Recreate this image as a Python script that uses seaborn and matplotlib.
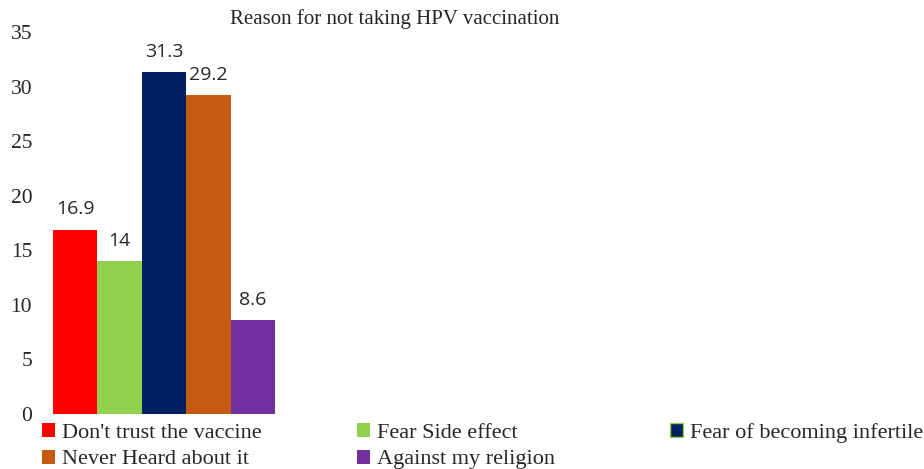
import matplotlib
matplotlib.use("Agg")
import matplotlib.pyplot as plt
import seaborn as sns
import pandas as pd
from matplotlib.patches import Patch

reasons = ["Don't trust the vaccine", "Fear Side effect", "Fear of becoming infertile",
           "Never Heard about it", "Against my religion"]
percent = [16.9, 14, 31.3, 29.2, 8.6]
labels = ["16.9", "14", "31.3", "29.2", "8.6"]
colors = ["#FF0000", "#92D050", "#002060", "#C55A11", "#7030A0"]
yticks = [0, 5, 10, 15, 20, 25, 30, 35]

sns.set_theme(style="white")
plt.rcParams['font.family'] = ['Liberation Serif', 'DejaVu Serif']

df = pd.DataFrame({"reason": reasons, "percent": percent})

fig = plt.figure(figsize=(9.24, 4.69), dpi=100)
ax = fig.add_axes([53/924, 1 - 414/469, 867/924, (414-32)/469])
sns.barplot(data=df, x="reason", y="percent", hue="reason", palette=colors,
            order=reasons, hue_order=reasons, width=1.0, dodge=False,
            legend=False, ax=ax, saturation=1, linewidth=0)

ax.set_xlim(-0.5, -0.5 + 867/44.4)
ax.set_ylim(0, 35)
ax.set_yticks(yticks)
ax.set_yticklabels([str(t) for t in yticks], fontsize=15.5)
ax.tick_params(axis="y", length=0, pad=15)
ax.set_xticks([])
ax.set_xlabel("")
ax.set_ylabel("")
for s in ax.spines.values():
    s.set_visible(False)

for i, (v, lab) in enumerate(zip(percent, labels)):
    ax.annotate(lab, (i, v), xytext=(0, 8), textcoords="offset points",
                ha="center", va="bottom", fontsize=14, family="Open Sans")

fig.text(395/924, 1 - 19/469, "Reason for not taking HPV vaccination",
         ha="center", va="center", fontsize=15)

handles = [Patch(facecolor=c, edgecolor=c, linewidth=0) for c in colors]
handles[2] = Patch(facecolor=colors[2], edgecolor="#92D050", linewidth=1)

def leg(idx, x):
    lg = fig.legend([handles[i] for i in idx], [reasons[i] for i in idx],
                    loc="upper left", bbox_to_anchor=(x/924, 1 - 423/469),
                    frameon=False, fontsize=16, handlelength=0.6, handleheight=0.6,
                    handletextpad=0.3, labelspacing=0.3, borderpad=0, borderaxespad=0)
    return lg

leg([0, 3], 42)
leg([1, 4], 357)
leg([2], 670)

fig.savefig("out.png", dpi=100)
